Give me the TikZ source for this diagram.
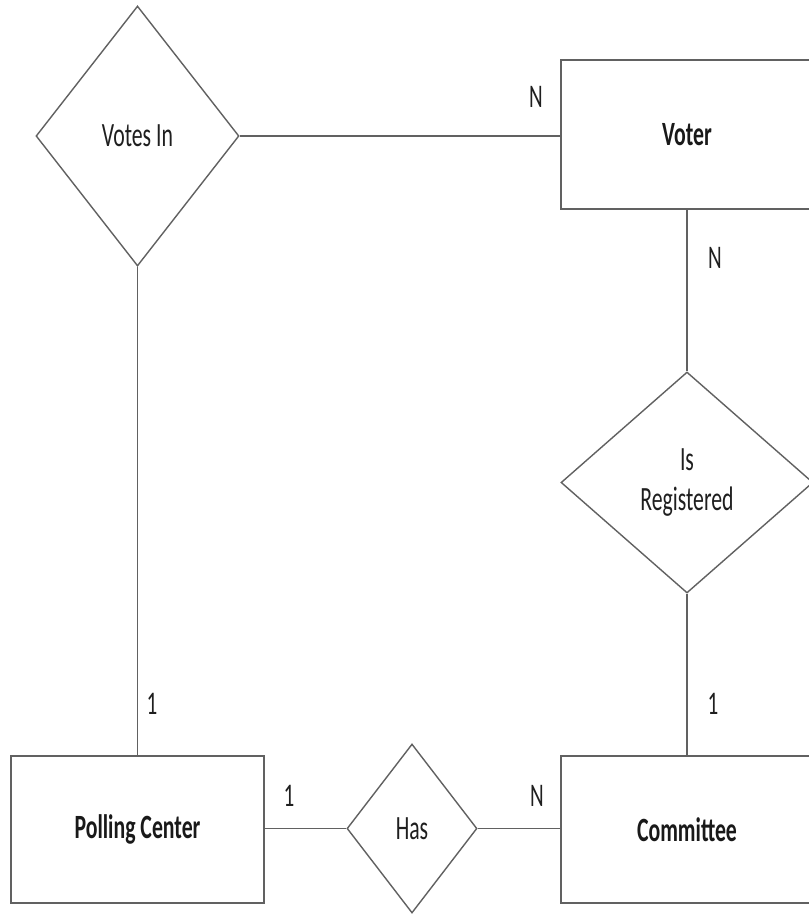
\documentclass[tikz,border=0pt]{standalone}
\usepackage{fontspec}
\newfontfamily\erfont[FakeStretch=0.64]{Carlito}
\usetikzlibrary{shapes.geometric}
\tikzset{
  conn/.style={draw=black!62, line width=1.4pt},
  entity/.style={rectangle, conn, inner sep=0pt, font=\erfont\bfseries\fontsize{34}{40}\selectfont, text=black!90},
  relation/.style={diamond, conn, inner sep=0pt, align=center, font=\erfont\fontsize{34}{40}\selectfont, text=black!88},
  card/.style={inner sep=0pt, font=\erfont\fontsize{33}{40}\selectfont, text=black!88}
}
\begin{document}
\begin{tikzpicture}[x=1pt,y=-1pt]
\useasboundingbox (0,0) rectangle (809,914);
\fill[white] (0,0) rectangle (809,914);
\clip (0,0) rectangle (809,914);
% entities
\node[entity, minimum width=252pt, minimum height=149pt] (voter) at (687,134.5) {\raisebox{-3pt}{Voter}};
\node[entity, minimum width=253pt, minimum height=147pt] (pc) at (137.5,829.5) {Polling Center};
\node[entity, minimum width=252pt, minimum height=147pt] (com) at (687,829.5) {Committee};
% relations
\node[relation, minimum width=203pt, minimum height=260pt] (vi) at (137.5,136) {Votes In};
\node[relation, minimum width=252pt, minimum height=221pt] (ir) at (687,482.5) {\raisebox{-5pt}{Is}\\\raisebox{-5pt}{Registered}};
\node[relation, minimum width=130pt, minimum height=169pt] (has) at (412,828.5) {Has};
% connectors
\draw[conn] (vi.east) -- (vi.east -| voter.west);
\draw[conn] (vi.south) -- (pc.north);
\draw[conn] (voter.south) -- (ir.north);
\draw[conn] (ir.south) -- (com.north);
\draw[conn] (pc.east |- has.west) -- (has.west);
\draw[conn] (has.east) -- (has.east -| com.west);
% cardinalities
\node[card] (c1) at (536,97) {N};
\node[card] (c2) at (715,258) {N};
\node[card] (c3) at (713,704) {1};
\node[card] (c4) at (152,704) {1};
\node[card] (c5) at (289,796) {1};
\node[card] (c6) at (537,796) {N};
\end{tikzpicture}
\end{document}
